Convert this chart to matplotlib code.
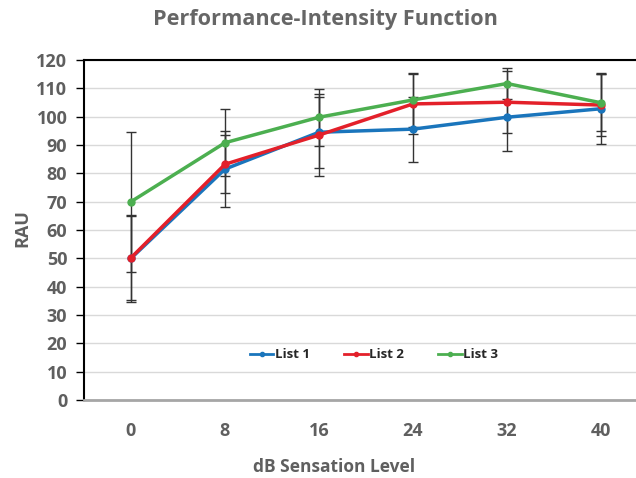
import matplotlib
matplotlib.use("Agg")
import matplotlib.pyplot as plt
import numpy as np

plt.rcParams['font.family'] = ['Open Sans', 'DejaVu Sans']

categories = ["0", "8", "16", "24", "32", "40"]
list1 = [50.0, 81.5, 94.5, 95.6, 99.8, 102.8]
list2 = [50.2, 83.2, 93.5, 104.5, 105.1, 104.1]
list3 = [70.0, 90.8, 99.8, 105.9, 111.7, 104.9]
err1 = [15.4, 13.5, 12.5, 11.5, 11.8, 12.5]
err2 = [14.8, 10.2, 14.5, 10.5, 11.0, 11.0]
err3 = [24.7, 11.9, 10.0, 9.5, 5.6, 10.0]
yticks = list(range(0, 121, 10))

series = [("List 1", list1, err1, "#1a75bc"),
          ("List 2", list2, err2, "#e3202a"),
          ("List 3", list3, err3, "#4caf50")]

gray = "#5f5f5f"
fig = plt.figure(figsize=(6.36, 4.78), dpi=100)
ax = fig.add_axes([84/636, 1-400/478, (648-84)/636, 340/478])
x = np.arange(len(categories))

for name, vals, errs, col in series:
    ax.errorbar(x, vals, yerr=errs, fmt='none', ecolor='#333333', elinewidth=1.0,
                capsize=3.5, capthick=1.0, zorder=2)
for name, vals, errs, col in series:
    ax.plot(x, vals, color=col, lw=2.5, marker='o', ms=5, label=name, zorder=3)

ax.set_xlim(-0.5, 5.5)
ax.set_ylim(0, 120)
ax.set_yticks(yticks)
ax.set_xticks(x)
ax.set_xticklabels(categories)
ax.grid(axis='y', color='#d9d9d9', lw=1)
ax.set_axisbelow(True)
ax.spines['right'].set_visible(False)
ax.spines['left'].set_color('black')
ax.spines['left'].set_linewidth(1.5)
ax.spines['top'].set_color('black')
ax.spines['top'].set_linewidth(1.5)
ax.spines['bottom'].set_color('#a6a6a6')
ax.spines['bottom'].set_linewidth(2)
ax.tick_params(axis='y', length=6, width=1, color='black', labelsize=13, labelcolor=gray, pad=6)
ax.tick_params(axis='x', length=0, labelsize=13, labelcolor=gray, pad=16)
for lab in ax.get_xticklabels() + ax.get_yticklabels():
    lab.set_fontweight('bold')

fig.text(22/636, 1-228/478, "RAU", fontsize=13, fontweight='bold', color=gray,
         rotation=90, ha='center', va='center')
fig.text(334/636, 1-467/478, "dB Sensation Level", fontsize=12.5, fontweight='bold',
         color=gray, ha='center', va='center')
fig.text(325/636, 1-20/478, "Performance-Intensity Function", fontsize=15.6, fontweight='bold',
         color='#666666', ha='center', va='center')

leg = ax.legend(loc='center', bbox_to_anchor=(374/636, 1-355/478), bbox_transform=fig.transFigure,
                ncol=3, frameon=False, fontsize=9.5, handlelength=1.8, handletextpad=0.1,
                columnspacing=2.6, markerscale=0.6)
for t in leg.get_texts():
    t.set_fontweight('bold')
    t.set_color('#262626')
for h in leg.get_lines():
    h.set_linewidth(2)

fig.savefig("out.png", dpi=100)
